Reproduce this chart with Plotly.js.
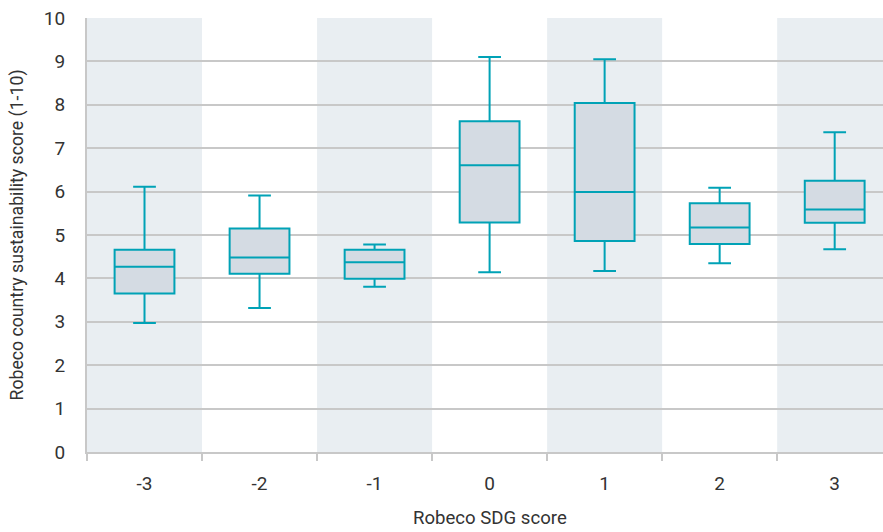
<!DOCTYPE html>
<html>
<head>
<meta charset="utf-8">
<script src="https://cdn.plot.ly/plotly-3.0.1.min.js"></script>
<style>html,body{margin:0;padding:0;background:#fff;}#chart{width:883px;height:532px;}</style>
</head>
<body>
<div id="chart"></div>
<script>
// Robeco SDG score categories
const sdgScores = [-3, -2, -1, 0, 1, 2, 3];
const tickLabels = ["-3", "-2", "-1", "0", "1", "2", "3"];
// Box statistics (Robeco country sustainability score)
const lowerWhisker = [2.97, 3.32, 3.81, 4.14, 4.17, 4.35, 4.67];
const q1Values     = [3.65, 4.11, 3.99, 5.29, 4.86, 4.79, 5.28];
const medianValues = [4.27, 4.48, 4.37, 6.61, 5.99, 5.17, 5.59];
const q3Values     = [4.66, 5.15, 4.66, 7.62, 8.04, 5.73, 6.25];
const upperWhisker = [6.11, 5.91, 4.78, 9.10, 9.05, 6.09, 7.37];
// Shaded background columns
const shadedScores = [-3, -1, 1, 3];

const teal = "#00a2b6";
const fontFam = "Roboto, 'Liberation Sans', sans-serif";
const textCol = "#333333";

const trace = {
  type: "box",
  x: sdgScores,
  q1: q1Values,
  median: medianValues,
  q3: q3Values,
  lowerfence: lowerWhisker,
  upperfence: upperWhisker,
  width: 0.52,
  whiskerwidth: 0.38,
  fillcolor: "#d4dbe3",
  line: {color: teal, width: 2},
  boxpoints: false,
  hoverinfo: "skip",
  showlegend: false
};

const shapes = shadedScores.map(s => ({
  type: "rect", xref: "x", yref: "paper",
  x0: s - 0.5, x1: s + 0.5, y0: 0, y1: 1,
  fillcolor: "#e9eef2", line: {width: 0}, layer: "below"
}));

const midScore = sdgScores[Math.floor(sdgScores.length / 2)];

const layout = {
  width: 883, height: 532,
  margin: {l: 87, r: 0, t: 18, b: 80},
  paper_bgcolor: "#ffffff",
  plot_bgcolor: "#ffffff",
  font: {family: fontFam, color: textCol, size: 19},
  xaxis: {
    type: "linear",
    range: [-3.5, 3.42],
    tickmode: "array",
    tickvals: sdgScores,
    ticktext: tickLabels,
    ticks: "",
    showgrid: false,
    zeroline: false,
    showline: true,
    linecolor: "#c8c8c8",
    linewidth: 2,
    ticklabelstandoff: 13,
    tickfont: {family: fontFam, size: 19, color: textCol, weight: 400},
    minor: {tickmode: "linear", tick0: -0.5, dtick: 1, ticks: "outside", ticklen: 7, tickcolor: "#c8c8c8", tickwidth: 2, showgrid: false}
  },
  yaxis: {
    range: [0, 10],
    tickmode: "linear", tick0: 0, dtick: 1,
    ticks: "",
    showgrid: true,
    gridcolor: "#c8c8c8",
    gridwidth: 2,
    zeroline: false,
    showline: true,
    linecolor: "#c8c8c8",
    linewidth: 2,
    ticklabelstandoff: 16,
    tickfont: {family: fontFam, size: 19, color: textCol, weight: 400},
    title: {text: "Robeco country sustainability score (1-10)", font: {family: fontFam, size: 17.7, color: textCol, weight: 400}, standoff: 16}
  },
  annotations: [{
    xref: "x", yref: "paper", x: midScore, y: 0, yshift: -66,
    xanchor: "center", yanchor: "middle", showarrow: false,
    text: "Robeco SDG score",
    font: {family: fontFam, size: 18.6, color: textCol, weight: 400}
  }],
  shapes: shapes
};

Plotly.newPlot("chart", [trace], layout, {displayModeBar: false, staticPlot: true});
</script>
</body>
</html>
